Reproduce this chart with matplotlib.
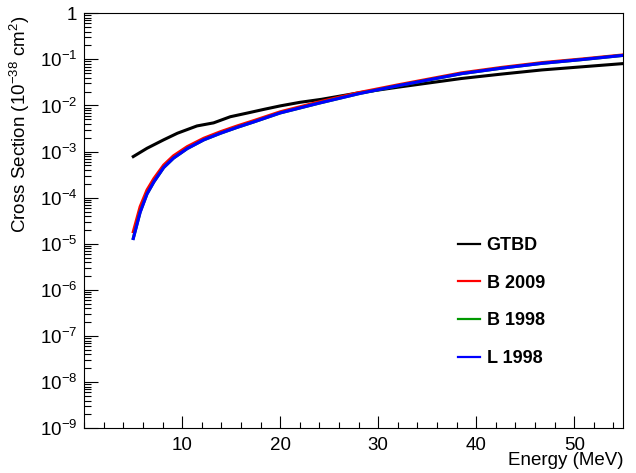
import math
import matplotlib
matplotlib.use("Agg")
import matplotlib.pyplot as plt
from matplotlib.ticker import FixedLocator, MultipleLocator, LogLocator, FuncFormatter, NullFormatter

plt.rcParams['font.family'] = ['Liberation Sans', 'DejaVu Sans']
plt.rcParams['mathtext.fontset'] = 'custom'
plt.rcParams['mathtext.rm'] = 'Liberation Sans'
plt.rcParams['mathtext.it'] = 'Liberation Sans:italic'
plt.rcParams['mathtext.bf'] = 'Liberation Sans:bold'

# data (energy in MeV, cross section in 1e-38 cm^2)
e_gtbd = [5, 6.4, 8.1, 9.5, 11.5, 13.2, 14.9, 16.7, 18.4, 20, 22, 24.2, 28, 32.4,
          38.5, 42.6, 46.7, 50.8, 55]
xs_gtbd = [7.8e-4, 1.18e-3, 1.8e-3, 2.5e-3, 3.6e-3, 4.2e-3, 5.7e-3, 6.9e-3, 8.3e-3,
           9.8e-3, 1.17e-2, 1.36e-2, 1.88e-2, 2.56e-2, 3.85e-2, 4.8e-2, 5.9e-2,
           6.9e-2, 8.1e-2]

e_fit = [5, 5.7, 6.4, 7.1, 8.1, 9.1, 10.5, 12.2, 13.9, 15.6, 17.3, 20, 24, 28, 32,
         38.5, 42.6, 46.7, 50.8, 55]
xs_b2009 = [1.83e-5, 6.4e-5, 1.47e-4, 2.6e-4, 5.1e-4, 8.1e-4, 1.28e-3, 1.95e-3, 2.7e-3,
            3.6e-3, 4.7e-3, 7.3e-3, 1.2e-2, 1.9e-2, 2.8e-2, 5.1e-2, 6.7e-2, 8.5e-2,
            0.102, 0.125]
xs_b1998 = [1.32e-5, 4.9e-5, 1.21e-4, 2.2e-4, 4.5e-4, 7.2e-4, 1.16e-3, 1.8e-3, 2.5e-3,
            3.35e-3, 4.4e-3, 6.9e-3, 1.13e-2, 1.8e-2, 2.68e-2, 4.9e-2, 6.45e-2, 8.2e-2,
            0.099, 0.122]
xs_l1998 = [1.3e-5, 4.8e-5, 1.2e-4, 2.2e-4, 4.5e-4, 7.2e-4, 1.16e-3, 1.8e-3, 2.5e-3,
            3.35e-3, 4.4e-3, 6.9e-3, 1.13e-2, 1.8e-2, 2.68e-2, 4.9e-2, 6.45e-2, 8.2e-2,
            0.099, 0.122]

labels = ['GTBD', 'B 2009', 'B 1998', 'L 1998']
x_ticks = [10, 20, 30, 40, 50]
y_ticks = [1e-9, 1e-8, 1e-7, 1e-6, 1e-5, 1e-4, 1e-3, 1e-2, 1e-1, 1]

fig = plt.figure(figsize=(6.36, 4.73), dpi=100)
ax = fig.add_axes([0.1325, 0.0945, 0.8475, 0.8775])

lw = 2.2
ax.plot(e_gtbd, xs_gtbd, color='black', lw=lw, label=labels[0])
ax.plot(e_fit, xs_b2009, color='#ff0000', lw=lw, label=labels[1])
ax.plot(e_fit, xs_b1998, color='#009900', lw=lw, label=labels[2])
ax.plot(e_fit, xs_l1998, color='#0000ff', lw=lw, label=labels[3])

ax.set_yscale('log')
ax.set_xlim(0, 55)
ax.set_ylim(1e-9, 1)

ax.xaxis.set_major_locator(FixedLocator(x_ticks))
ax.xaxis.set_minor_locator(MultipleLocator(2))
ax.xaxis.set_major_formatter(FuncFormatter(lambda v, pos: '%d' % v))
ax.yaxis.set_major_locator(FixedLocator(y_ticks))
ax.yaxis.set_minor_locator(LogLocator(base=10, subs=range(2, 10), numticks=20))
ax.yaxis.set_minor_formatter(NullFormatter())


def yfmt(v, pos):
    p = int(round(math.log10(v)))
    if p == 0:
        return '1'
    return r'$10^{%d}$' % p


ax.yaxis.set_major_formatter(FuncFormatter(yfmt))

ax.tick_params(which='both', direction='in', top=False, right=False, labelsize=13.5, width=0.8)
ax.tick_params(axis='x', which='major', length=8.6, pad=6)
ax.tick_params(axis='x', which='minor', length=4.3)
ax.tick_params(axis='y', which='major', length=10, pad=5)
ax.tick_params(axis='y', which='minor', length=4.8)
for s in ax.spines.values():
    s.set_linewidth(0.8)

ax.set_xlabel('Energy (MeV)', fontsize=13.5, ha='right')
ax.xaxis.set_label_coords(1.0, -0.057)
ax.set_ylabel(r'Cross Section (10$^{-38}$ cm$^{2}$)', fontsize=13.5, ha='right')
ax.yaxis.set_label_coords(-0.097, 0.995)

leg = ax.legend(loc='upper left', bbox_to_anchor=(0.693, 0.461), frameon=False,
                prop={'weight': 'bold', 'size': 13}, handlelength=1.25,
                handletextpad=0.35, labelspacing=1.15, borderpad=0, borderaxespad=0)
for h in leg.get_lines():
    h.set_linewidth(1.6)

fig.savefig('out.png', dpi=100)
